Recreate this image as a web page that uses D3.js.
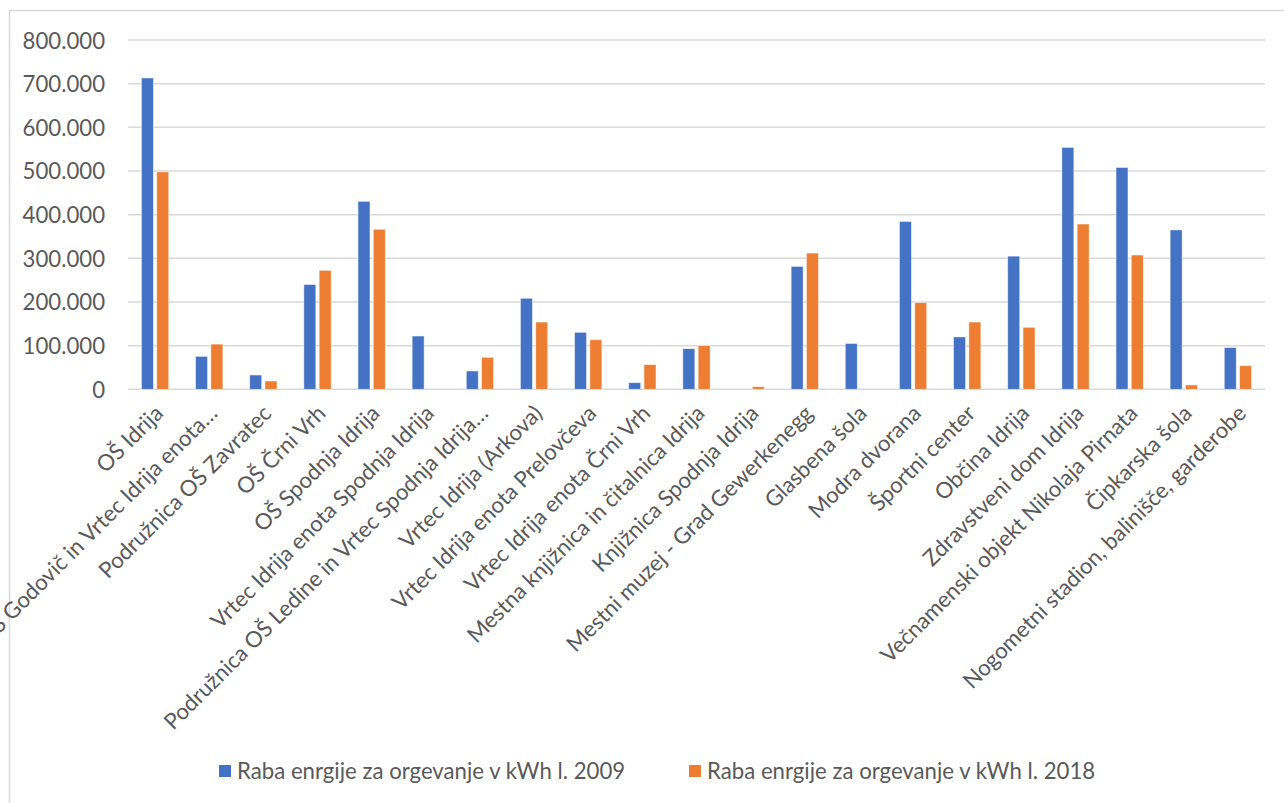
<!DOCTYPE html>
<html>
<head>
<meta charset="utf-8">
<script src="https://cdn.jsdelivr.net/npm/d3@7"></script>
<style>
  html, body { margin: 0; padding: 0; background: #fff; }
  svg { display: block; }
  text { font-family: Lato, "Open Sans", sans-serif; fill: #595959; }
</style>
</head>
<body>
<svg id="chart" width="1284" height="803"></svg>
<script>
// Building names (x categories)
const categories = [
  "OŠ Idrija",
  "Podružnica OŠ Godovič in Vrtec Idrija enota…",
  "Podružnica OŠ Zavratec",
  "OŠ Črni Vrh",
  "OŠ Spodnja Idrija",
  "Vrtec Idrija enota Spodnja Idrija",
  "Podružnica OŠ Ledine in Vrtec Spodnja Idrija…",
  "Vrtec Idrija (Arkova)",
  "Vrtec Idrija enota Prelovčeva",
  "Vrtec Idrija enota Črni Vrh",
  "Mestna knjižnica in čitalnica Idrija",
  "Knjižnica Spodnja Idrija",
  "Mestni muzej - Grad Gewerkenegg",
  "Glasbena šola",
  "Modra dvorana",
  "Športni center",
  "Občina Idrija",
  "Zdravstveni dom Idrija",
  "Večnamenski objekt Nikolaja Pirnata",
  "Čipkarska šola",
  "Nogometni stadion, balinišče, garderobe"
];

// Heating energy use in kWh
const use2009 = [713000, 75500, 32700, 240000, 430500, 122000, 42000, 208500, 130500, 15200,
                 93000, 0, 281500, 105000, 384500, 120000, 305000, 554000, 508000, 365000, 95500];
const use2018 = [498000, 103500, 19000, 272500, 366500, 0, 73300, 154000, 113500, 56500,
                 100000, 6000, 312000, 0, 198500, 154000, 142000, 378500, 307500, 10000, 54000];

const seriesNames = ["Raba enrgije za orgevanje v kWh l. 2009", "Raba enrgije za orgevanje v kWh l. 2018"];
const seriesColors = ["#4472C4", "#ED7D31"];
const yTicks = [0, 100000, 200000, 300000, 400000, 500000, 600000, 700000, 800000];

const FONT = 22.2;
const svg = d3.select("#chart");

// outer chart frame
svg.append("rect")
  .attr("x", 9.5).attr("y", 10.5)
  .attr("width", 1400).attr("height", 900)
  .attr("fill", "none").attr("stroke", "#d9d9d9").attr("stroke-width", 1.5);

const plot = { left: 128, right: 1265, top: 40, bottom: 389.3 };

const y = d3.scaleLinear().domain([0, 800000]).range([plot.bottom, plot.top]);

const x0 = d3.scaleBand()
  .domain(categories)
  .range([plot.left, plot.right])
  .paddingInner(0.4957)
  .paddingOuter(0.4957 / 2);

const x1 = d3.scaleBand()
  .domain(seriesNames)
  .range([0, x0.bandwidth()])
  .paddingInner(0.2157);

const fmt = d3.formatLocale({ decimal: ",", thousands: ".", grouping: [3], currency: ["", ""] }).format(",");

// gridlines
svg.append("g")
  .selectAll("line")
  .data(yTicks)
  .join("line")
  .attr("x1", plot.left).attr("x2", plot.right)
  .attr("y1", d => y(d)).attr("y2", d => y(d))
  .attr("stroke", "#d9d9d9").attr("stroke-width", 1.5);

// y axis labels
const yAxis = d3.axisLeft(y).tickValues(yTicks).tickFormat(fmt).tickSize(0).tickPadding(0);
const yg = svg.append("g").attr("transform", "translate(105,0)").call(yAxis);
yg.select(".domain").remove();
yg.selectAll("text")
  .attr("font-size", FONT)
  .attr("font-family", "Lato, sans-serif")
  .attr("fill", "#595959")
  .attr("dy", "0.36em");

// bars
const rows = categories.map((c, i) => ({ cat: c, vals: [use2009[i], use2018[i]] }));
const groups = svg.append("g").selectAll("g")
  .data(rows)
  .join("g")
  .attr("transform", d => `translate(${x0(d.cat)},0)`);

groups.selectAll("rect")
  .data(d => d.vals.map((v, k) => ({ v, k })))
  .join("rect")
  .filter(d => d.v > 0)
  .attr("x", d => x1(seriesNames[d.k]))
  .attr("width", x1.bandwidth())
  .attr("y", d => y(d.v))
  .attr("height", d => y(0) - y(d.v))
  .attr("fill", d => seriesColors[d.k])
  .attr("stroke", "#ffffff").attr("stroke-opacity", 0.6).attr("stroke-width", 0.8);

// category labels, rotated
const xAxis = d3.axisBottom(x0).tickSize(0).tickPadding(0);
const xg = svg.append("g").attr("transform", `translate(0,${plot.bottom})`).call(xAxis);
xg.select(".domain").remove();
xg.selectAll(".tick text")
  .attr("font-size", FONT)
  .attr("font-family", "Lato, sans-serif")
  .attr("fill", "#595959")
  .attr("text-anchor", "end")
  .attr("y", 0).attr("dy", "0.35em")
  .attr("transform", "translate(4,20) rotate(-45)");

// legend
const legendX = [219, 689];
const lg = svg.append("g").selectAll("g")
  .data(seriesNames)
  .join("g")
  .attr("transform", (d, i) => `translate(${legendX[i]},771)`);
lg.append("rect")
  .attr("x", 0).attr("y", -6).attr("width", 12).attr("height", 12)
  .attr("fill", (d, i) => seriesColors[i]);
lg.append("text")
  .attr("x", 18).attr("dy", "0.36em")
  .attr("font-size", FONT)
  .text(d => d);
</script>
</body>
</html>
